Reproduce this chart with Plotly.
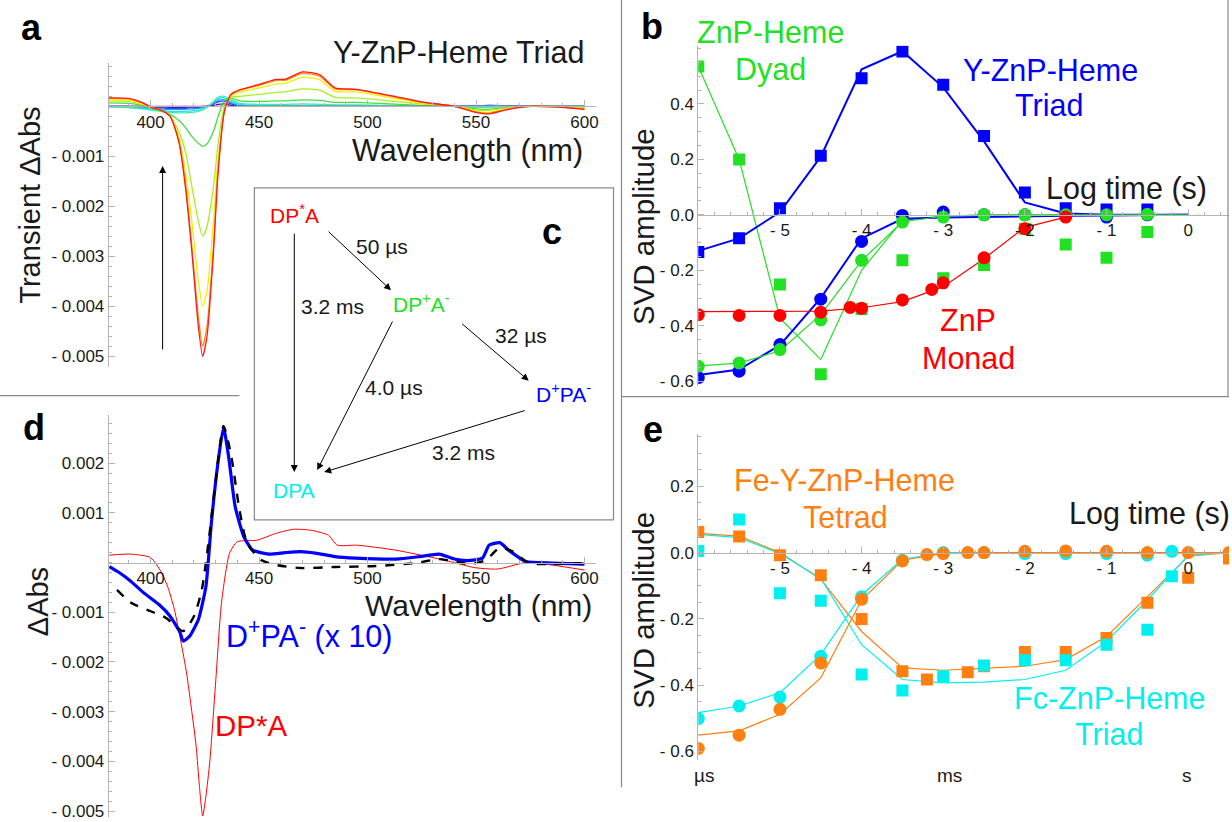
import plotly.graph_objects as go

W, H = 1232, 822
FONT = "Liberation Sans, Arial, sans-serif"

# ---------------- Panel a : transient spectra (Y-ZnP-Heme triad) ----------------
wl_a = [380, 390, 396, 401, 405, 409, 413, 416, 419, 422, 424, 426, 429, 431, 434, 437, 441,
        450, 458, 462, 470, 478, 485, 495, 510, 525, 540, 550, 556, 565, 575, 590, 600]
a_red = [0.00017, 0.00016, 0.00008, -0.00003, -0.00008, -0.0002, -0.0007, -0.0016, -0.0029, -0.0044,
         -0.0050, -0.0046, -0.0029, -0.0014, -0.0001, 0.00024, 0.00033, 0.00044, 0.00054, 0.00054,
         0.00069, 0.00063, 0.00037, 0.00034, 0.00022, 0.00009, 0.0, -0.00012, -0.00015, -0.00006,
         0.0, -0.00002, -0.00006]
a_orange = [0.00016, 0.00015, 0.00007, -0.00003, -0.00008, -0.0002, -0.0007, -0.0015, -0.0028, -0.0042,
            -0.0048, -0.0044, -0.0028, -0.0013, -0.0001, 0.00023, 0.00032, 0.00042, 0.00052, 0.00052,
            0.00066, 0.0006, 0.00035, 0.00033, 0.00021, 0.00008, 0.0, -0.00011, -0.00014, -0.00005,
            0.0, -0.00002, -0.00005]
a_yellow = [0.00013, 0.00012, 0.00005, -0.00003, -0.00008, -0.0002, -0.0006, -0.0013, -0.0023, -0.0035,
            -0.0040, -0.0037, -0.0023, -0.0011, -0.0001, 0.0002, 0.00028, 0.00037, 0.00045, 0.00046,
            0.00058, 0.00053, 0.0003, 0.00029, 0.00018, 0.00007, 0.0, -0.0001, -0.00012, -0.00004,
            0.0, -0.00001, -0.00004]
a_lime = [0.00011, 0.0001, 0.00004, -0.00003, -0.00008, -0.0002, -0.0005, -0.0009, -0.0016, -0.0023,
          -0.0026, -0.0024, -0.0016, -0.0008, 0.0, 0.00018, 0.0002, 0.00024, 0.00028, 0.00029,
          0.00035, 0.00032, 0.00018, 0.00017, 0.00011, 0.00005, 0.0, -0.00007, -0.00008, -0.00003,
          0.0, -0.00001, -0.00003]
a_green = [0.00007, 0.00006, 0.00002, -0.00004, -0.0001, -0.00016, -0.00028, -0.00042, -0.0006, -0.00074,
           -0.0008, -0.00075, -0.0005, -0.00022, 0.00012, 0.00016, 0.00011, 0.0001, 0.00011, 0.00011,
           0.00013, 0.00012, 0.00008, 0.00008, 0.00005, 0.00002, 0.0, -0.00005, -0.00006, -0.00002,
           0.0, 0.0, -0.00002]
a_aqua = [-0.00001, -0.00003, -0.00005, -0.00008, -0.0001, -0.00012, -0.00013, -0.00013, -0.00012, -0.0001,
          -0.00007, -0.00002, 0.0001, 0.00018, 0.0002, 0.00013, 0.00006, 0.00004, 0.00004, 0.00004,
          0.00005, 0.00004, 0.00003, 0.00003, 0.00002, 0.00001, 0.0, -0.00002, -0.00002, -0.00001,
          0.0, 0.0, 0.0]
a_cyan = [-0.00001, -0.00002, -0.00004, -0.00006, -0.00008, -0.0001, -0.0001, -0.0001, -0.00009, -0.00007,
          -0.00005, -0.00001, 0.00008, 0.00015, 0.00017, 0.0001, 0.00004, 0.00002, 0.00002, 0.00002,
          0.00002, 0.00002, 0.00001, 0.00001, 0.00001, 0.0, 0.0, 0.0, 0.0, 0.0,
          0.0, 0.0, 0.0]
a_sky = [0.0, -0.00001, -0.00003, -0.00004, -0.00005, -0.00006, -0.00006, -0.00006, -0.00005, -0.00004,
         -0.00002, 0.0, 0.00007, 0.00012, 0.00013, 0.00008, 0.00002, 0.00001, 0.0, 0.0,
         0.0, 0.0, 0.0, 0.0, 0.0, 0.0, 0.0, 0.00001, 0.00002, 0.00001,
         0.0, 0.0, 0.0]
a_blue = [0.0, 0.0, -0.00001, -0.00002, -0.00003, -0.00004, -0.00004, -0.00004, -0.00003, -0.00002,
          -0.00001, 0.0, 0.00005, 0.00009, 0.0001, 0.00005, 0.00001, 0.0, 0.0, 0.0,
          0.0, 0.0, 0.0, 0.0, 0.0, 0.0, 0.0, 0.00001, 0.00002, 0.00001,
          0.0, 0.0, 0.0]
a_violet = [0.0, 0.0, 0.0, -0.00001, -0.00001, -0.00002, -0.00002, -0.00002, -0.00001, -0.00001,
            0.0, 0.0, 0.00002, 0.00004, 0.00005, 0.00002, 0.0, 0.0, 0.0, 0.0,
            0.0, 0.0, 0.0, 0.0, 0.0, 0.0, 0.0, 0.0, 0.0, 0.0,
            0.0, 0.0, 0.0]
a_flat = [0.0] * len(wl_a)

# ---------------- Panel b : SVD amplitudes ----------------
t_half = [-6, -5.5, -5, -4.5, -4, -3.5, -3, -2.5, -2, -1.5, -1, -0.5]
b_triad_sq = [-0.134, -0.084, 0.024, 0.213, 0.493, 0.589, 0.469, 0.284, 0.081, 0.024, 0.019, 0.019]
b_triad_ci = [-0.587, -0.564, -0.468, -0.304, -0.096, -0.002, 0.01, 0.0, 0.0, 0.0, -0.008, 0.0]
b_dyad_sq = [0.535, 0.2, -0.251, -0.575, -0.34, -0.164, -0.229, -0.181, -0.05, -0.107, -0.155, -0.062]
b_dyad_ci = [-0.546, -0.534, -0.486, -0.379, -0.164, -0.026, -0.008, 0.0, 0.0, 0.0, 0.0, 0.002]
t_monad = [-6, -5.5, -5, -4.5, -4.14, -4, -3.5, -3.14, -3, -2.5, -2, -1.5]
b_monad_ci = [-0.36, -0.363, -0.363, -0.351, -0.334, -0.337, -0.307, -0.269, -0.245, -0.155, -0.05, -0.008]

t_fit = [-6, -5.5, -5, -4.5, -4, -3.5, -3, -2.5, -2, -1.5, -1, -0.5, 0]
b_triad_sq_fit = [-0.13, -0.085, 0.01, 0.21, 0.525, 0.59, 0.46, 0.265, 0.045, 0.005, 0.0, 0.0, 0.0]
b_triad_ci_fit = [-0.578, -0.558, -0.47, -0.3, -0.085, -0.014, -0.01, -0.007, -0.005, -0.003, -0.002, -0.001, 0.0]
b_dyad_sq_fit = [0.535, 0.2, -0.373, -0.522, -0.2, -0.02, -0.005, 0.0, 0.0, 0.0, 0.0, 0.0, 0.0]
b_dyad_ci_fit = [-0.545, -0.535, -0.49, -0.36, -0.165, -0.025, -0.005, 0.0, 0.0, 0.0, 0.0, 0.0, 0.0]
t_monad_fit = [-6, -5.5, -5, -4.5, -4, -3.5, -3, -2.5, -2, -1.5]
b_monad_fit = [-0.349, -0.349, -0.349, -0.347, -0.335, -0.313, -0.259, -0.158, -0.045, -0.008]

# ---------------- Panel d : component spectra ----------------
d_red_wl = [381, 391, 400, 405, 408, 411, 414, 416.5, 419, 421, 422.5, 424, 425.5, 427.3, 430, 432.7,
            436.4, 440, 449, 458, 466, 474, 482, 486, 495, 513, 531, 540, 549, 560, 573, 585, 600]
d_red = [0.00015, 0.00017, 0.0001, -0.0002, -0.0005, -0.00095, -0.0016, -0.0022, -0.003, -0.0037,
         -0.0045, -0.0051, -0.0047, -0.0040, -0.0024, -0.0008, 0.00019, 0.00042, 0.00045, 0.00059,
         0.00067, 0.00065, 0.00055, 0.00035, 0.00035, 0.00025, 0.00009, 0.0, -0.0001, -0.00013,
         0.0, -0.00005, -0.00015]
d_blue_wl = [381, 385.5, 391, 396, 404, 409, 413.6, 415, 418, 422, 425.5, 428, 431, 433.6, 436, 439,
             443, 447, 454.5, 462, 469, 476, 485, 494.5, 513, 524, 533, 540, 546, 553, 556, 561,
             565, 573, 585, 600]
d_blue = [-0.00008, -0.0002, -0.00038, -0.00058, -0.00085, -0.00108, -0.00141, -0.00158, -0.00148, -0.00115,
          -0.00048, 0.00079, 0.00199, 0.00272, 0.00212, 0.00112, 0.00052, 0.00025, 0.00017, 0.0002,
          0.00022, 0.00019, 0.00012, 0.00009, 0.00007, 0.00012, 0.00017, 0.00007, 0.00004, 0.00009,
          0.00035, 0.0004, 0.00025, 0.00002, -0.00001, -0.00003]
d_black_wl = [384.5, 391, 400, 407, 415, 420, 423.6, 427, 430, 433.6, 437, 441, 444.5, 451, 458, 469,
              485, 503.6, 522, 533, 540, 547, 554.5, 561, 567, 574.5, 585, 601]
d_black = [-0.00055, -0.00081, -0.00098, -0.00111, -0.00138, -0.00108, -0.00055, 0.00052, 0.00165, 0.00275,
           0.00219, 0.00105, 0.00039, 0.00005, -0.00005, -0.00011, -0.00009, -0.00007, -0.00001, 0.00007,
           0.00002, -0.00003, 0.00005, 0.0003, 0.00022, -0.00001, -0.00003, -0.00001]

# ---------------- Panel e : SVD amplitudes ----------------
t_e_sq = [-6, -5.5, -5, -4.5, -4, -3.5, -3.2, -2.7, -2.5, -2, -1.5, -1, -0.5, 0, 0.5]
e_tetrad_sq = [0.062, 0.049, -0.008, -0.068, -0.2, -0.358, -0.383, -0.361, -0.343, -0.3, -0.3, -0.258,
               -0.151, -0.076, -0.018]
t_e_cyan = [-6, -5.5, -5, -4.5, -4, -3.5, -3, -2.5, -2, -1.5, -1, -0.5, -0.2]
e_triad_sq = [0.005, 0.1, -0.123, -0.145, -0.368, -0.416, -0.373, -0.341, -0.325, -0.325, -0.278, -0.233, -0.071]
t_e_ci = [-6, -5.5, -5, -4.5, -4, -3.5, -3.2, -3, -2.7, -2.5, -2, -1.5, -1, -0.5, 0, 0.5]
e_tetrad_ci = [-0.591, -0.551, -0.473, -0.333, -0.141, -0.025, -0.006, -0.003, 0.0, 0.0, 0.004, 0.005,
               0.004, 0.0, 0.0, 0.0]
e_triad_ci = [-0.501, -0.463, -0.436, -0.313, -0.133, -0.023, 0.0, 0.0, -0.003, -0.003, -0.003, -0.008, 0.004]
t_e_fit = [-6, -5.5, -5, -4.5, -4, -3.5, -3, -2.5, -2, -1.5, -1, -0.5, 0, 0.5]
e_tetrad_sq_fit = [0.058, 0.05, 0.0, -0.08, -0.238, -0.348, -0.355, -0.35, -0.343, -0.323, -0.253, -0.133, -0.011, 0.0]
e_triad_sq_fit = [0.055, 0.045, -0.003, -0.078, -0.278, -0.383, -0.393, -0.391, -0.383, -0.355, -0.268, -0.143, -0.008, 0.0]
e_tetrad_ci_fit = [-0.551, -0.538, -0.488, -0.378, -0.143, -0.023, -0.003, 0.0, 0.0, 0.0, 0.0, 0.0, 0.0, 0.0]
e_triad_ci_fit = [-0.483, -0.463, -0.423, -0.308, -0.128, -0.02, 0.0, 0.0, 0.0, 0.0, 0.0, 0.0, 0.0, 0.0]

# tick labels
wl_ticks = [400, 450, 500, 550, 600]
a_yticks = [-0.001, -0.002, -0.003, -0.004, -0.005]
a_ytext = ["- 0.001", "- 0.002", "- 0.003", "- 0.004", "- 0.005"]
d_yticks = [0.002, 0.001, -0.001, -0.002, -0.003, -0.004, -0.005]
d_ytext = ["0.002", "0.001", "- 0.001", "- 0.002", "- 0.003", "- 0.004", "- 0.005"]
t_ticks = [-5, -4, -3, -2, -1, 0]
t_text = ["- 5", "- 4", "- 3", "- 2", "- 1", "0"]
b_yticks = [0.4, 0.2, 0.0, -0.2, -0.4, -0.6]
b_ytext = ["0.4", "0.2", "0.0", "- 0.2", "- 0.4", "- 0.6"]
e_yticks = [0.2, 0.0, -0.2, -0.4, -0.6]
e_ytext = ["0.2", "0.0", "- 0.2", "- 0.4", "- 0.6"]

# ---------------- styles ----------------
RED = "#ff0000"
GREEN = "#22e022"
BLUE = "#0000ff"
CYAN = "#00f0f0"
ORANGE = "#ff8010"
AXC = "#b4b4b4"
TXT = "#1a1a1a"
LBL = 30.5


def fx(p):
    return p / W


def fy(p):
    return 1 - p / H


fig = go.Figure()


def setup_axes(i, xpx, ypx, xr, yr, xt, xtt, yt, ytt, xminor, yminor):
    xd = [fx(xpx[0]), fx(xpx[1])]
    yd = [fy(ypx[1]), fy(ypx[0])]
    pos = yd[0] + (0 - yr[0]) / (yr[1] - yr[0]) * (yd[1] - yd[0])
    sx = "" if i == 1 else str(i)
    common = dict(showgrid=False, zeroline=False, showline=True, linecolor=AXC, linewidth=1,
                  ticks="inside", ticklen=6, tickcolor=AXC, tickwidth=1,
                  tickfont=dict(family=FONT, size=17, color=TXT), tickmode="array")
    fig.layout["xaxis" + sx] = dict(domain=xd, range=xr, anchor="free", position=pos,
                                    tickvals=xt, ticktext=xtt,
                                    minor=dict(tickmode="linear", tick0=0, dtick=xminor, ticks="inside",
                                               ticklen=3, tickcolor=AXC),
                                    **common)
    fig.layout["yaxis" + sx] = dict(domain=yd, range=yr, anchor="x" + sx,
                                    tickvals=yt, ticktext=ytt,
                                    minor=dict(tickmode="linear", tick0=0, dtick=yminor, ticks="inside",
                                               ticklen=3, tickcolor=AXC),
                                    **common)


setup_axes(1, (109, 597), (63, 369), [380.7, 605.1], [-0.00521, 0.000875],
           wl_ticks, [str(v) for v in wl_ticks], a_yticks, a_ytext, 10, 0.0002)
setup_axes(2, (700, 1232), (46, 388), [-6, 0.5], [-0.616, 0.61],
           t_ticks, t_text, b_yticks, b_ytext, 0.2, 0.05)
setup_axes(3, (109, 597), (418, 822), [380.7, 605.1], [-0.00512, 0.00296],
           wl_ticks, [str(v) for v in wl_ticks], d_yticks, d_ytext, 10, 0.0002)
setup_axes(4, (700, 1232), (437, 765), [-6, 0.5], [-0.627, 0.357],
           t_ticks, t_text, e_yticks, e_ytext, 0.2, 0.05)

# ---- panel a traces
a_series = [(a_violet, "#4010c0"), (a_blue, "#2040ff"), (a_sky, "#3090ff"), (a_cyan, "#20e0f0"),
            (a_aqua, "#30f0b0"), (a_green, "#40e040"), (a_lime, "#a8f020"), (a_yellow, "#f0f000"),
            (a_orange, "#ff8c00"), (a_red, "#ff1a1a"), (a_flat, "#e0205a")]
for vals, col in a_series:
    fig.add_trace(go.Scatter(x=wl_a, y=vals, mode="lines", xaxis="x", yaxis="y",
                             line=dict(color=col, width=1.3, shape="spline", smoothing=0.6),
                             hoverinfo="skip"))


def line(x, y, col, w, ax):
    fig.add_trace(go.Scatter(x=x, y=y, mode="lines", xaxis="x" + ax, yaxis="y" + ax,
                             line=dict(color=col, width=w), hoverinfo="skip"))


def marks(x, y, col, sym, ax, size=12):
    fig.add_trace(go.Scatter(x=x, y=y, mode="markers", xaxis="x" + ax, yaxis="y" + ax,
                             marker=dict(color=col, symbol=sym, size=size, line=dict(width=0)),
                             hoverinfo="skip", cliponaxis=True))


# ---- panel b traces
line(t_fit, b_dyad_sq_fit, GREEN, 1.2, "2")
line(t_fit, b_triad_sq_fit, BLUE, 2, "2")
line(t_fit, b_triad_ci_fit, BLUE, 2, "2")
line(t_fit, b_dyad_ci_fit, GREEN, 1.2, "2")
line(t_monad_fit, b_monad_fit, RED, 1.2, "2")
marks(t_half, b_dyad_sq, GREEN, "square", "2")
marks(t_half, b_triad_sq, BLUE, "square", "2")
marks(t_half, b_triad_ci, BLUE, "circle", "2", 13)
marks(t_half, b_dyad_ci, GREEN, "circle", "2", 13)
marks(t_monad, b_monad_ci, RED, "circle", "2", 13)

# ---- panel d traces
fig.add_trace(go.Scatter(x=d_red_wl, y=d_red, mode="lines", xaxis="x3", yaxis="y3",
                         line=dict(color=RED, width=1, shape="spline", smoothing=0.6), hoverinfo="skip"))
fig.add_trace(go.Scatter(x=d_blue_wl, y=d_blue, mode="lines", xaxis="x3", yaxis="y3",
                         line=dict(color=BLUE, width=3.2, shape="spline", smoothing=0.5), hoverinfo="skip"))
fig.add_trace(go.Scatter(x=d_black_wl, y=d_black, mode="lines", xaxis="x3", yaxis="y3",
                         line=dict(color="black", width=2.4, dash="dash", shape="spline", smoothing=0.6),
                         hoverinfo="skip"))

# ---- panel e traces
line(t_e_fit, e_tetrad_sq_fit, ORANGE, 1.2, "4")
line(t_e_fit, e_triad_sq_fit, CYAN, 1.2, "4")
line(t_e_fit, e_triad_ci_fit, CYAN, 1.2, "4")
line(t_e_fit, e_tetrad_ci_fit, ORANGE, 1.2, "4")
marks(t_e_sq, e_tetrad_sq, ORANGE, "square", "4")
marks(t_e_cyan, e_triad_sq, CYAN, "square", "4")
marks(t_e_cyan, e_triad_ci, CYAN, "circle", "4", 13)
marks(t_e_ci, e_tetrad_ci, ORANGE, "circle", "4", 13)

# ---------------- annotations ----------------
ann = []


def txt(x, y, s, size=LBL, color=TXT, angle=0, bold=False, xanchor="center"):
    if bold:
        s = "<b>" + s + "</b>"
    ann.append(dict(x=fx(x), y=fy(y), xref="paper", yref="paper", text=s, showarrow=False,
                    font=dict(family=FONT, size=size, color=color), textangle=angle,
                    xanchor=xanchor, yanchor="middle"))


def arrow(hx, hy, tx, ty):
    ann.append(dict(x=fx(hx), y=fy(hy), xref="paper", yref="paper", text="", showarrow=True,
                    ax=tx - hx, ay=ty - hy, axref="pixel", ayref="pixel",
                    arrowhead=2, arrowsize=1.4, arrowwidth=1, arrowcolor="black"))


# panel letters
txt(32, 28, "a", 36, "black", bold=True)
txt(654, 27, "b", 36, "black", bold=True)
txt(553, 233, "c", 36, "black", bold=True)
txt(34, 430, "d", 36, "black", bold=True)
txt(655, 432, "e", 36, "black", bold=True)

# panel a
txt(460, 52, "Y-ZnP-Heme Triad")
txt(469, 151, "Wavelength (nm)")
txt(30, 206, "Transient ΔAbs", 29, angle=-90)
arrow(163, 167, 163, 352)

# panel b
txt(772, 32, "ZnP-Heme", LBL, GREEN)
txt(772, 70, "Dyad", LBL, GREEN)
txt(1053, 70, "Y-ZnP-Heme", LBL, BLUE)
txt(1052, 106, "Triad", LBL, BLUE)
txt(1129, 190, "Log time (s)")
txt(970, 322, "ZnP", LBL, RED)
txt(971, 360, "Monad", LBL, RED)
txt(645, 228, "SVD amplitude", 29.5, angle=-90)

# panel c
txt(295, 215, "DP<sup>*</sup>A", 21, RED)
txt(383, 248, "50 µs", 21)
txt(333, 308, "3.2 ms", 21)
txt(423, 305, "DP<sup>+</sup>A<sup>-</sup>", 21, GREEN)
txt(522, 338, "32 µs", 21)
txt(565, 395, "D<sup>+</sup>PA<sup>-</sup>", 21, BLUE)
txt(395, 390, "4.0 µs", 21)
txt(465, 455, "3.2 ms", 21)
txt(295, 493, "DPA", 21, CYAN)
arrow(392, 292, 328, 232)
arrow(295, 475, 295, 235)
arrow(530, 383, 462, 325)
arrow(318, 473, 394, 323)
arrow(325, 475, 527, 413)

# panel d
txt(480, 609, "Wavelength (nm)", 30)
txt(38, 605, "ΔAbs", 29, angle=-90)
txt(310, 638, "D<sup>+</sup>PA<sup>-</sup> (x 10)", LBL, BLUE)
txt(252, 730, "DP*A", 29.5, RED)

# panel e
txt(847, 483, "Fe-Y-ZnP-Heme", LBL, ORANGE)
txt(848, 520, "Tetrad", LBL, ORANGE)
txt(1152, 517, "Log time (s)")
txt(1113, 702, "Fc-ZnP-Heme", LBL, CYAN)
txt(1112, 738, "Triad", LBL, CYAN)
txt(645, 614, "SVD amplitude", 29.5, angle=-90)
txt(706, 780, "µs", 19)
txt(952, 780, "ms", 19)
txt(1190, 780, "s", 19)

# ---------------- frame shapes ----------------
shapes = [
    dict(type="rect", xref="paper", yref="paper", x0=fx(255), x1=fx(615), y0=fy(523), y1=fy(189),
         line=dict(color="#8a8a8a", width=1.2), fillcolor="white", layer="below"),
    dict(type="line", xref="paper", yref="paper", x0=fx(0), x1=fx(240), y0=fy(398), y1=fy(398),
         line=dict(color="#8a8a8a", width=1.2)),
    dict(type="line", xref="paper", yref="paper", x0=fx(623), x1=fx(623), y0=fy(0), y1=fy(792),
         line=dict(color="#8a8a8a", width=1.2)),
    dict(type="line", xref="paper", yref="paper", x0=fx(623), x1=fx(1232), y0=fy(399), y1=fy(399),
         line=dict(color="#8a8a8a", width=1.2)),
    dict(type="line", xref="paper", yref="paper", x0=fx(1231), x1=fx(1231), y0=fy(0), y1=fy(399),
         line=dict(color="#8a8a8a", width=1.2)),
]

fig.update_layout(width=W, height=H, autosize=False, margin=dict(l=0, r=0, t=0, b=0, pad=0),
                  paper_bgcolor="white", plot_bgcolor="rgba(0,0,0,0)", showlegend=False,
                  annotations=ann, shapes=shapes, font=dict(family=FONT, color=TXT))

fig.write_html("out.html", config={"displayModeBar": False},
               post_script="document.body.style.margin='0px';")
